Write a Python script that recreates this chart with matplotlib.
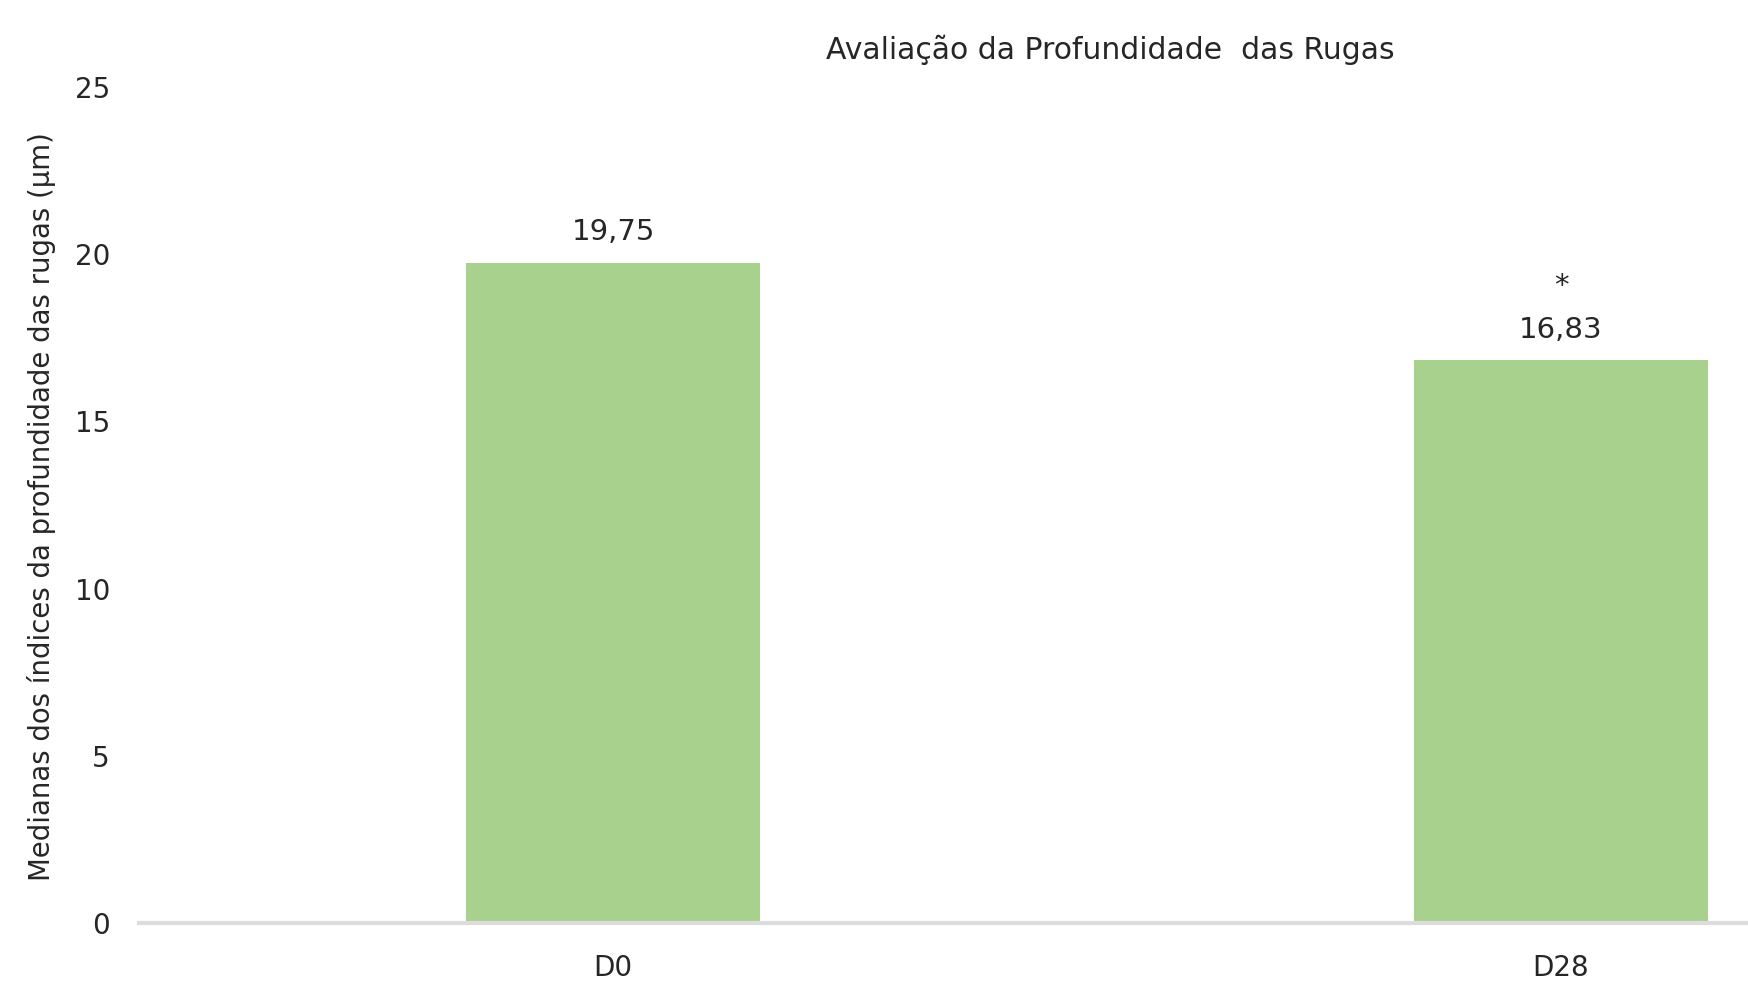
import matplotlib
matplotlib.use("Agg")
import matplotlib.pyplot as plt
import numpy as np

# data
categories = ["D0", "D28"]
medians = [19.75, 16.83]
markers = ["", "*"]  # significance marks above the value labels
y_ticks = [0, 5, 10, 15, 20, 25]

title = "Avaliação da Profundidade  das Rugas"
y_label = "Medianas dos índices da profundidade das rugas (µm)"

bar_color = "#a9d18e"
text_color = "#262626"

plt.rcParams["font.family"] = ["DejaVu Sans"]

fig = plt.figure(figsize=(17.49, 9.98), dpi=100)
# the plot area runs past the right edge of the picture, like the original crop
ax = fig.add_axes([0.0795, 0.0752, 1.084, 0.8376])

x = np.arange(len(categories))
bars = ax.bar(x, medians, width=0.31, color=bar_color, zorder=2)

ax.set_xlim(-0.5, 1.5)
ax.set_ylim(0, 25)
ax.set_yticks(y_ticks)
ax.set_xticks(x)
ax.set_xticklabels(categories)

for side in ["top", "right", "left"]:
    ax.spines[side].set_visible(False)
ax.spines["bottom"].set_color("#dcdcdc")
ax.spines["bottom"].set_linewidth(3)
ax.tick_params(axis="both", length=0, labelsize=20, colors=text_color)
ax.tick_params(axis="y", pad=21)
ax.tick_params(axis="x", pad=22)

for b, v, m in zip(bars, medians, markers):
    cx = b.get_x() + b.get_width() / 2
    ax.annotate(f"{v:.2f}".replace(".", ","), (cx, v), xytext=(0, 12),
                textcoords="offset points", ha="center", va="bottom",
                fontsize=21, color=text_color)
    if m:
        ax.annotate(m, (cx, v), xytext=(0, 43), textcoords="offset points",
                    ha="center", va="bottom", fontsize=21, color=text_color)

fig.text(0.635, 0.95, title, ha="center", va="center", fontsize=21.5, color=text_color)
fig.text(0.024, 0.492, y_label, rotation=90, ha="center", va="center",
         fontsize=19.8, color=text_color)

fig.savefig("out.png", dpi=100)
